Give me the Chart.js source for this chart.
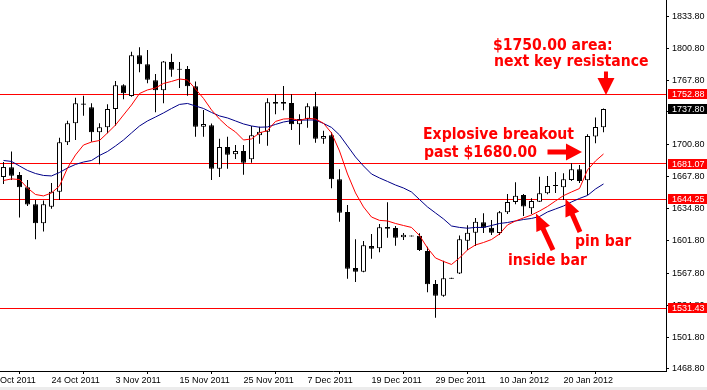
<!DOCTYPE html>
<html>
<head>
<meta charset="utf-8">
<script src="https://cdn.jsdelivr.net/npm/chart.js@4.4.0/dist/chart.umd.min.js"></script>
<style>
html,body{margin:0;padding:0;background:#fff;overflow:hidden;}
#wrap{width:707px;height:390px;position:relative;}
canvas{display:block;}
</style>
</head>
<body>
<div id="wrap"><canvas id="c" width="707" height="390" style="width:707px;height:390px"></canvas></div>
<script>
// ---- data (daily gold candles) ----
const dates = [
 '14 Oct 2011','17 Oct 2011','18 Oct 2011','19 Oct 2011','20 Oct 2011','21 Oct 2011','24 Oct 2011','25 Oct 2011','26 Oct 2011','27 Oct 2011',
 '28 Oct 2011','31 Oct 2011','1 Nov 2011','2 Nov 2011','3 Nov 2011','4 Nov 2011','7 Nov 2011','8 Nov 2011','9 Nov 2011','10 Nov 2011',
 '11 Nov 2011','14 Nov 2011','15 Nov 2011','16 Nov 2011','17 Nov 2011','18 Nov 2011','21 Nov 2011','22 Nov 2011','23 Nov 2011','24 Nov 2011',
 '25 Nov 2011','28 Nov 2011','29 Nov 2011','30 Nov 2011','1 Dec 2011','2 Dec 2011','5 Dec 2011','6 Dec 2011','7 Dec 2011','8 Dec 2011',
 '9 Dec 2011','12 Dec 2011','13 Dec 2011','14 Dec 2011','15 Dec 2011','16 Dec 2011','19 Dec 2011','20 Dec 2011','21 Dec 2011','22 Dec 2011',
 '23 Dec 2011','26 Dec 2011','27 Dec 2011','28 Dec 2011','29 Dec 2011','30 Dec 2011','2 Jan 2012','3 Jan 2012','4 Jan 2012','5 Jan 2012',
 '6 Jan 2012','9 Jan 2012','10 Jan 2012','11 Jan 2012','12 Jan 2012','13 Jan 2012','16 Jan 2012','17 Jan 2012','18 Jan 2012','19 Jan 2012',
 '20 Jan 2012','23 Jan 2012','24 Jan 2012','25 Jan 2012','26 Jan 2012','27 Jan 2012'
];
const opens = [
 1667.5,1677.6,1669.6,1656.9,1639.3,1619.6,1636.8,1652.3,1703.4,1723.1,
 1743.6,1739.7,1713.8,1719.0,1737.9,1762.4,1751.4,1793.5,1784.2,1767.6,
 1757.3,1786.5,1779.6,1779.3,1761.4,1719.6,1721.0,1676.1,1698.6,1691.0,
 1694.4,1685.8,1710.7,1714.4,1745.1,1745.1,1744.1,1722.1,1727.5,1740.7,
 1707.2,1710.7,1665.1,1631.3,1573.3,1569.5,1596.1,1593.7,1615.8,1614.7,
 1605.1,1607.0,1606.8,1591.0,1556.8,1544.7,1563.2,1567.7,1601.6,1609.9,
 1620.6,1615.1,1609.6,1631.0,1641.7,1648.9,1635.1,1642.0,1650.7,1659.2,
 1656.9,1664.4,1675.5,1664.1,1709.5,1719.0
];
const highs = [
 1683.0,1693.9,1672.7,1664.4,1643.7,1643.2,1661.3,1708.2,1725.8,1749.6,
 1751.7,1743.8,1723.1,1742.8,1766.9,1763.5,1797.2,1801.8,1799.0,1774.1,
 1787.6,1795.1,1786.5,1782.4,1766.2,1736.9,1722.9,1707.2,1709.2,1700.6,
 1700.6,1720.3,1719.6,1749.0,1753.1,1761.7,1753.1,1732.4,1743.8,1755.5,
 1715.4,1713.8,1675.5,1638.5,1603.1,1601.3,1608.5,1618.9,1641.3,1616.8,
 1609.6,1607.0,1609.3,1595.4,1560.9,1580.9,1563.2,1607.0,1617.5,1625.1,
 1630.0,1623.0,1632.3,1649.9,1662.0,1649.9,1645.5,1667.8,1668.6,1672.7,
 1671.4,1681.7,1679.9,1711.7,1729.1,1738.5
];
const lows = [
 1660.3,1664.4,1625.6,1637.5,1603.1,1611.1,1634.7,1643.7,1700.6,1705.8,
 1731.0,1704.1,1680.7,1712.8,1720.6,1747.9,1750.6,1775.9,1764.5,1734.5,
 1743.8,1771.3,1759.6,1751.7,1709.2,1709.2,1664.4,1667.5,1676.1,1686.2,
 1669.9,1682.3,1702.0,1699.9,1732.4,1736.5,1716.2,1700.9,1718.5,1703.0,
 1702.0,1655.8,1621.3,1562.3,1558.9,1568.9,1583.0,1589.6,1604.7,1596.4,
 1602.3,1606.0,1591.0,1548.2,1521.9,1543.6,1562.2,1567.1,1592.0,1596.1,
 1609.6,1607.5,1607.5,1629.2,1639.3,1627.2,1629.2,1641.7,1649.6,1651.0,
 1643.7,1663.4,1661.3,1648.9,1702.4,1713.8
];
const closes = [
 1677.9,1668.9,1656.9,1639.1,1619.6,1639.3,1652.3,1703.4,1723.1,1743.8,
 1742.2,1713.8,1719.0,1737.9,1762.4,1754.1,1793.5,1784.2,1768.2,1757.3,
 1786.9,1778.6,1778.6,1761.4,1719.6,1722.4,1676.1,1698.6,1690.6,1694.4,
 1682.3,1710.7,1714.4,1744.8,1743.4,1743.4,1722.1,1727.5,1740.7,1707.2,
 1710.0,1665.1,1630.6,1572.6,1569.5,1596.8,1593.3,1615.5,1614.0,1604.7,
 1607.8,1606.0,1592.0,1556.5,1544.7,1562.7,1562.2,1603.1,1609.9,1621.3,
 1615.1,1609.9,1631.0,1641.7,1648.2,1637.0,1642.7,1650.7,1658.2,1658.2,
 1665.1,1675.5,1663.4,1710.0,1719.3,1737.8
];
// moving averages as drawn (red = fast, blue = slow)
const maFast = [
 1663.9,1665.5,1664.9,1656.1,1649.4,1647.9,1651.0,1658.2,1676.8,1690.3,
 1700.6,1703.7,1705.3,1713.1,1721.3,1731.7,1742.0,1753.9,1757.6,1759.6,
 1764.3,1766.4,1768.9,1767.9,1758.6,1748.8,1736.9,1727.5,1719.8,1714.1,
 1705.8,1706.9,1713.1,1715.6,1725.0,1727.5,1727.9,1726.0,1728.3,1727.5,
 1723.1,1713.1,1694.4,1670.6,1651.0,1636.5,1626.1,1622.6,1622.0,1619.4,
 1617.3,1615.3,1607.0,1594.0,1583.7,1580.1,1577.0,1583.7,1592.0,1597.2,
 1599.7,1602.8,1608.5,1617.9,1622.0,1625.1,1628.2,1632.3,1637.0,1642.7,
 1648.2,1652.0,1655.6,1674.8,1684.1,1691.3
];
const maSlow = [
 1684.6,1683.6,1678.9,1674.3,1671.1,1669.1,1668.6,1672.2,1676.8,1680.5,
 1683.0,1684.6,1689.8,1693.9,1699.6,1705.8,1713.1,1720.3,1725.5,1729.6,
 1733.8,1738.4,1742.6,1743.6,1741.0,1738.4,1734.3,1730.7,1728.6,1725.5,
 1722.4,1720.3,1719.0,1719.3,1721.9,1724.4,1725.8,1726.3,1726.5,1726.5,
 1722.9,1718.8,1711.0,1699.6,1688.2,1678.9,1670.6,1666.5,1662.9,1659.2,
 1656.1,1652.0,1644.2,1636.5,1630.3,1624.1,1616.8,1615.3,1614.5,1615.3,
 1615.3,1617.3,1619.4,1620.4,1622.0,1623.5,1624.6,1626.6,1631.3,1634.4,
 1637.5,1641.7,1645.3,1648.4,1655.1,1660.3
];
const yTickValues = [1468.8,1501.8,1534.8,1567.8,1601.8,1634.8,1667.8,1700.8,1734.8,1767.8,1800.8,1833.8];
const xTickLabels = ['12 Oct 2011','24 Oct 2011','3 Nov 2011','15 Nov 2011','25 Nov 2011','7 Dec 2011','19 Dec 2011','29 Dec 2011','10 Jan 2012','20 Jan 2012'];
const xTickIndex = [-2,6,14,22,30,38,46,54,62,70];
const levels = [1752.88,1681.07,1644.25,1531.43];
const lastPrice = 1737.80;

// annotations anchored in data space (bar index, price)
const notes = [
 {text:'$1750.00 area:', i:61.19, p:1799.4},
 {text:'next key resistance', i:61.31, p:1782.7},
 {text:'Explosive breakout', i:52.44, p:1706.5},
 {text:'past $1680.00', i:52.56, p:1688.5},
 {text:'inside bar', i:63.06, p:1576.4},
 {text:'pin bar', i:71.44, p:1596.1}
];
const arrows = [
 {i1:75.31, p1:1776.7, i2:75.31, p2:1752.4, shaft:4, head:17, headW:17},
 {i1:68.0,  p1:1693.4, i2:72.31, p2:1693.4, shaft:5, head:16, headW:17},
 {i1:68.69, p1:1591.9, i2:66.56, p2:1629.7, shaft:5, head:17, headW:15},
 {i1:72.06, p1:1610.6, i2:70.25, p2:1644.7, shaft:5, head:17, headW:15}
];

const TICK_FONT = {family:'Liberation Sans', size:9};

const bgPlugin = {
  id:'bg',
  beforeDraw(chart){
    const ctx = chart.ctx;
    ctx.save();
    ctx.fillStyle = '#ffffff';
    ctx.fillRect(0,0,chart.width,chart.height);
    ctx.fillStyle = '#ececec';
    ctx.fillRect(0,chart.height-3,chart.width,3);
    ctx.restore();
  }
};

const levelsPlugin = {
  id:'levels',
  beforeDatasetsDraw(chart){
    const ctx = chart.ctx, ca = chart.chartArea, ys = chart.scales.y;
    ctx.save();
    ctx.strokeStyle = '#ff0000';
    ctx.lineWidth = 1;
    levels.forEach(v => {
      const y = Math.floor(ys.getPixelForValue(v)) + 0.5;
      ctx.beginPath(); ctx.moveTo(ca.left, y); ctx.lineTo(ca.right, y); ctx.stroke();
    });
    ctx.restore();
  },
  afterDraw(chart){
    const ctx = chart.ctx, ca = chart.chartArea, ys = chart.scales.y, xs = chart.scales.x;
    ctx.save();
    // price boxes on the axis
    ctx.font = '9px "Liberation Sans"';
    ctx.textBaseline = 'middle';
    ctx.textAlign = 'left';
    const boxes = levels.map(v => ({v, bg:'#ff0000'})).concat([{v:lastPrice, bg:'#000000'}]);
    boxes.forEach(b => {
      const y = ys.getPixelForValue(b.v);
      const top = Math.round(y) - 5;
      ctx.fillStyle = b.bg;
      ctx.fillRect(ca.right + 2, top, chart.width - ca.right - 2, 10);
      ctx.fillStyle = '#ffffff';
      ctx.fillText(b.v.toFixed(2), ca.right + 6, top + 5.5);
    });
    // annotation text
    ctx.fillStyle = '#ff0000';
    ctx.font = 'bold 15.6px "DejaVu Sans Condensed", "DejaVu Sans", sans-serif';
    ctx.textBaseline = 'alphabetic';
    notes.forEach(n => {
      ctx.fillText(n.text, xs.getPixelForValue(n.i), ys.getPixelForValue(n.p));
    });
    // arrows
    arrows.forEach(a => {
      const x1 = xs.getPixelForValue(a.i1), y1 = ys.getPixelForValue(a.p1);
      const x2 = xs.getPixelForValue(a.i2), y2 = ys.getPixelForValue(a.p2);
      const dx = x2 - x1, dy = y2 - y1, L = Math.hypot(dx, dy);
      const ux = dx / L, uy = dy / L, px = -uy, py = ux;
      const bx = x2 - ux * a.head, by = y2 - uy * a.head;
      ctx.beginPath();
      ctx.moveTo(x1 + px * a.shaft / 2, y1 + py * a.shaft / 2);
      ctx.lineTo(bx + px * a.shaft / 2, by + py * a.shaft / 2);
      ctx.lineTo(bx + px * a.headW / 2, by + py * a.headW / 2);
      ctx.lineTo(x2, y2);
      ctx.lineTo(bx - px * a.headW / 2, by - py * a.headW / 2);
      ctx.lineTo(bx - px * a.shaft / 2, by - py * a.shaft / 2);
      ctx.lineTo(x1 - px * a.shaft / 2, y1 - py * a.shaft / 2);
      ctx.closePath();
      ctx.fill();
    });
    ctx.restore();
  }
};

const bodyColors = opens.map((o, i) => closes[i] >= o ? '#ffffff' : '#000000');

new Chart(document.getElementById('c'), {
  type: 'bar',
  data: {
    datasets: [
      { type:'line', label:'MA fast', data: maFast.map((v,i)=>({x:i, y:v})),
        borderColor:'#ff0000', borderWidth:1, pointRadius:0, tension:0, fill:false },
      { type:'line', label:'MA slow', data: maSlow.map((v,i)=>({x:i, y:v})),
        borderColor:'#000088', borderWidth:1, pointRadius:0, tension:0, fill:false },
      { type:'bar', label:'body', data: opens.map((o,i)=>({x:i, y:[o, closes[i]]})),
        backgroundColor: bodyColors, borderColor:'#000000', borderWidth:1, borderSkipped:false,
        barThickness:5, grouped:false, inflateAmount:0 },
      { type:'bar', label:'wick', data: lows.map((l,i)=>({x:i, y:[l, highs[i]]})),
        backgroundColor:'#000000', borderWidth:0, barThickness:1, grouped:false, inflateAmount:0 }
    ]
  },
  options: {
    responsive:false, animation:false, devicePixelRatio:1, events:[],
    layout:{padding:0},
    plugins:{legend:{display:false}, tooltip:{enabled:false}, title:{display:false}},
    scales:{
      x:{
        type:'linear', min:-0.4375, max:82.8125, offset:false, bounds:'data',
        grid:{drawOnChartArea:false, drawTicks:true, tickLength:3, color:'#000000'},
        border:{display:true, color:'#000000', width:1},
        ticks:{autoSkip:false, maxRotation:0, minRotation:0, align:'start', padding:1, color:'#000000', font:TICK_FONT,
          callback:(v)=>{ const k = xTickIndex.indexOf(v); return k >= 0 ? xTickLabels[k] : ''; }},
        afterBuildTicks:(s)=>{ s.ticks = xTickIndex.map(v=>({value:v})); },
        afterFit:(s)=>{ s.height = 19; s.paddingLeft = 0; s.paddingRight = 0; s.paddingTop = 0; s.paddingBottom = 0; }
      },
      y:{
        type:'linear', position:'right', min:1466.73, max:1850.67, bounds:'data',
        grid:{drawOnChartArea:false, drawTicks:true, tickLength:3, color:'#000000'},
        border:{display:true, color:'#000000', width:1},
        ticks:{padding:3, color:'#000000', font:TICK_FONT, callback:(v)=>Number(v).toFixed(2)},
        afterBuildTicks:(s)=>{ s.ticks = yTickValues.map(v=>({value:v})); },
        afterFit:(s)=>{ s.width = 41; s.paddingLeft = 0; s.paddingRight = 0; s.paddingTop = 0; s.paddingBottom = 0; }
      }
    }
  },
  plugins:[bgPlugin, levelsPlugin]
});
</script>
</body>
</html>
